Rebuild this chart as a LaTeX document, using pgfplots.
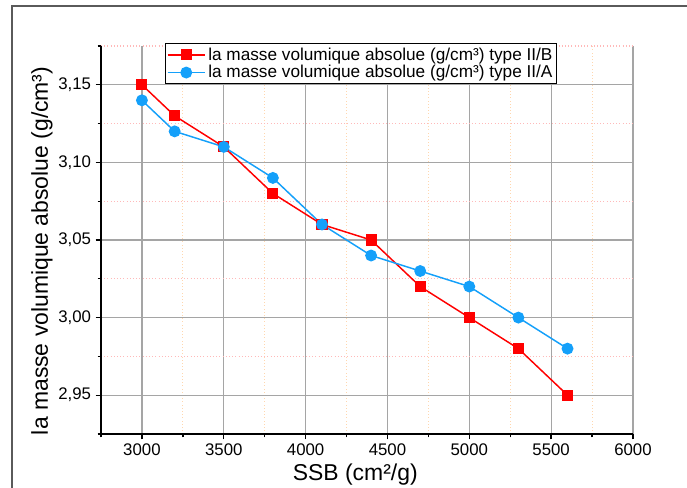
\documentclass[border=0pt]{standalone}
\usepackage{pgfplots}
\pgfplotsset{compat=1.18}
\usepackage{fontspec}
\setmainfont{Liberation Sans}
\definecolor{myred}{RGB}{255,0,0}
\definecolor{myblue}{RGB}{20,160,250}
\definecolor{gridgray}{RGB}{165,165,165}
\definecolor{minpink}{RGB}{255,185,185}
\definecolor{minorange}{RGB}{255,215,175}
\definecolor{framegray}{RGB}{90,90,90}
\begin{document}
\begin{tikzpicture}
\begin{axis}[
  at={(75.75pt,40.5pt)}, anchor=south west, scale only axis,
  width=399pt, height=291pt,
  xmin=2750, xmax=6000, ymin=2.925, ymax=3.175,
  axis lines=left, axis line style={-, line width=1.2pt, black},
  xtick={3000,3500,4000,4500,5000,5500,6000},
  ytick={2.95,3.00,3.05,3.10,3.15},
  minor xtick={2750,3250,3750,4250,4750,5250,5750},
  minor ytick={2.925,2.975,3.025,3.075,3.125,3.175},
  tick align=outside, major tick length=4pt, minor tick length=2.5pt,
  every tick/.style={black, line width=1pt},
  grid=both,
  major grid style={gridgray, line width=0.9pt},
  minor x grid style={minorange, dotted, line width=0.8pt},
  minor y grid style={minpink, dotted, line width=0.8pt},
  xticklabel style={font=\fontsize{12.6}{14}\selectfont},
  yticklabel style={font=\fontsize{12.6}{14}\selectfont,
    /pgf/number format/.cd, fixed, fixed zerofill, precision=2, use comma},
  /pgf/number format/1000 sep={},
  /pgf/number format/assume math mode=true,
  xlabel={SSB (cm²/g)},
  ylabel={la masse volumique absolue (g/cm³)},
  every axis x label/.style={at={(axis description cs:0.478,-0.104)}, anchor=center, font=\fontsize{17.2}{19}\selectfont},
  every axis y label/.style={at={(axis description cs:-0.111,0.472)}, anchor=center, rotate=90, font=\fontsize{17.2}{19}\selectfont},
  legend style={at={(axis description cs:0.1203,1.0077)}, anchor=north west,
    draw=black, line width=0.8pt, fill=white, font=\fontsize{12.9}{14.5}\selectfont,
    inner sep=1pt, row sep=-1.5pt},
  legend cell align=left,
  legend image code/.code={\draw[mark repeat=2,mark phase=2] plot coordinates {(0pt,0pt) (14pt,0pt) (28pt,0pt)};},
]
\addplot[myred, line width=1.1pt, mark=square*, mark size=3.6pt, mark options={solid, fill=myred}] coordinates {
 (3000,3.15) (3200,3.13) (3500,3.11) (3800,3.08) (4100,3.06)
 (4400,3.05) (4700,3.02) (5000,3.00) (5300,2.98) (5600,2.95)};
\addlegendentry{la masse volumique absolue (g/cm³) type II/B}
\addplot[myblue, line width=1.1pt, mark=*, mark size=3.9pt, mark options={solid, fill=myblue}] coordinates {
 (3000,3.14) (3200,3.12) (3500,3.11) (3800,3.09) (4100,3.06)
 (4400,3.04) (4700,3.03) (5000,3.02) (5300,3.00) (5600,2.98)};
\addlegendentry{la masse volumique absolue (g/cm³) type II/A}
\end{axis}
\draw[framegray, line width=1.1pt] (9pt,0pt) -- (9pt,361.5pt) -- (515.25pt,361.5pt);
\pgfresetboundingbox
\useasboundingbox (0pt,0pt) rectangle (515.25pt,366pt);
\end{tikzpicture}
\end{document}
